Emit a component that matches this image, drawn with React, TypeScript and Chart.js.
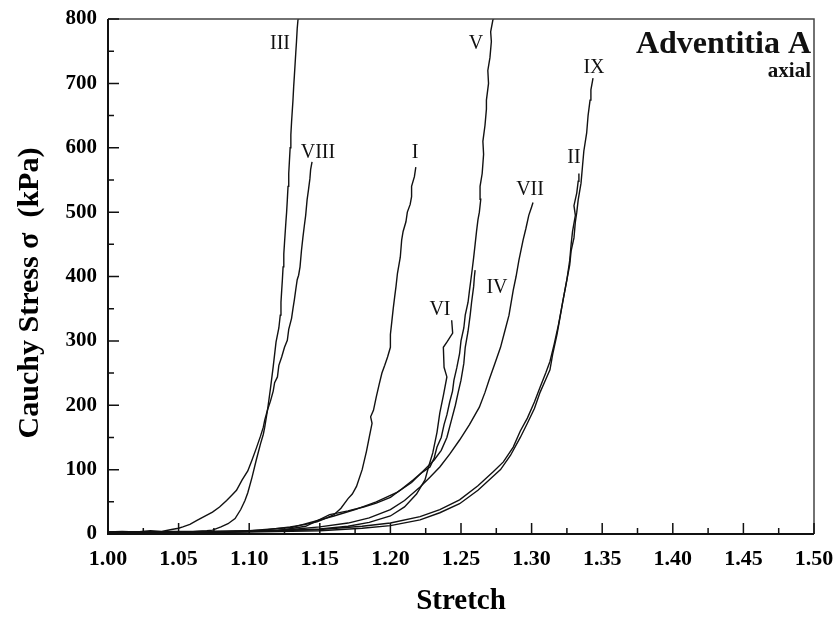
import React, { useEffect, useRef } from "react";
import { Chart, registerables } from "chart.js";

Chart.register(...registerables);

type P = [number, number];

const curveI: P[] = [[1.000,2],[1.030,3],[1.060,2],[1.090,4],[1.110,6],[1.129,11],[1.140,15],[1.148,19],[1.155,25],[1.160,30],[1.165,40],[1.170,55],[1.173,62],[1.176,74],[1.180,100],[1.183,128],[1.185,150],[1.187,172],[1.186,182],[1.188,192],[1.190,213],[1.192,232],[1.194,250],[1.196,262],[1.198,275],[1.200,290],[1.200,310],[1.201,330],[1.202,350],[1.203,368],[1.204,385],[1.205,405],[1.207,430],[1.208,457],[1.209,470],[1.211,485],[1.212,500],[1.214,512],[1.215,524],[1.215,540],[1.217,555],[1.218,570]];
const curveII: P[] = [[1.000,3],[1.050,3],[1.100,4],[1.150,7],[1.180,12],[1.200,17],[1.221,27],[1.235,38],[1.249,53],[1.262,75],[1.273,97],[1.280,112],[1.287,135],[1.292,160],[1.297,180],[1.302,205],[1.306,228],[1.310,250],[1.313,268],[1.316,295],[1.319,325],[1.321,348],[1.323,372],[1.325,395],[1.327,425],[1.328,450],[1.329,470],[1.331,495],[1.330,510],[1.332,530],[1.333,548],[1.3335,560]];
const curveIII: P[] = [[1.000,2],[1.015,3],[1.030,2],[1.045,4],[1.060,4],[1.070,5],[1.074,6],[1.080,11],[1.085,16],[1.090,24],[1.094,38],[1.097,52],[1.099,64],[1.102,88],[1.105,115],[1.108,140],[1.110,155],[1.111,166],[1.113,193],[1.115,225],[1.117,260],[1.119,298],[1.121,320],[1.122,340],[1.1225,360],[1.123,378],[1.1235,395],[1.124,415],[1.1245,435],[1.125,452],[1.126,485],[1.1265,500],[1.127,519],[1.1275,540],[1.128,560],[1.129,600],[1.1295,620],[1.130,640],[1.131,674],[1.1315,695],[1.132,712],[1.133,748],[1.1335,765],[1.134,785],[1.1346,800],[1.135,812]];
const curveIV: P[] = [[1.000,3],[1.050,3],[1.100,5],[1.130,10],[1.160,28],[1.175,38],[1.190,50],[1.205,65],[1.215,80],[1.222,95],[1.231,115],[1.236,130],[1.240,150],[1.243,175],[1.246,200],[1.248,220],[1.250,239],[1.252,265],[1.253,290],[1.255,315],[1.2565,340],[1.2575,360],[1.259,385],[1.2595,400],[1.260,410]];
const curveV: P[] = [[1.000,2],[1.040,3],[1.080,4],[1.120,5],[1.140,12],[1.157,30],[1.170,36],[1.181,42],[1.190,48],[1.200,57],[1.208,70],[1.216,84],[1.222,95],[1.228,104],[1.231,118],[1.233,135],[1.236,150],[1.238,170],[1.240,185],[1.242,205],[1.244,222],[1.245,239],[1.247,258],[1.249,280],[1.250,300],[1.252,320],[1.253,340],[1.255,360],[1.256,378],[1.257,395],[1.258,412],[1.259,430],[1.260,450],[1.261,470],[1.262,488],[1.263,500],[1.264,520],[1.2635,540],[1.265,560],[1.266,590],[1.2655,610],[1.267,635],[1.268,660],[1.268,674],[1.2695,700],[1.269,720],[1.2705,740],[1.2715,765],[1.271,780],[1.2727,800],[1.273,815]];
const curveVI: P[] = [[1.000,2],[1.040,3],[1.080,3],[1.120,5],[1.150,8],[1.170,12],[1.185,18],[1.200,28],[1.210,42],[1.2185,62],[1.2245,84],[1.227,104],[1.230,126],[1.233,158],[1.235,188],[1.2375,215],[1.240,244],[1.238,259],[1.2375,290],[1.240,298],[1.2441,312],[1.2434,332]];
const curveVII: P[] = [[1.000,2],[1.050,3],[1.100,4],[1.130,7],[1.150,11],[1.170,17],[1.185,25],[1.200,38],[1.210,52],[1.221,73],[1.228,88],[1.235,104],[1.242,124],[1.249,146],[1.256,170],[1.263,197],[1.267,220],[1.270,240],[1.274,265],[1.278,290],[1.281,315],[1.284,340],[1.287,379],[1.289,400],[1.291,425],[1.294,457],[1.296,475],[1.298,495],[1.300,508],[1.301,515]];
const curveVIII: P[] = [[1.000,3],[1.010,4],[1.020,3],[1.030,5],[1.038,4],[1.045,7],[1.050,9],[1.053,11],[1.058,15],[1.063,21],[1.068,27],[1.074,34],[1.079,42],[1.084,52],[1.088,61],[1.091,68],[1.095,84],[1.099,98],[1.102,115],[1.105,133],[1.108,152],[1.110,166],[1.111,177],[1.113,193],[1.115,206],[1.117,222],[1.118,235],[1.120,244],[1.121,262],[1.123,275],[1.125,290],[1.127,301],[1.128,318],[1.130,335],[1.131,350],[1.132,364],[1.133,380],[1.134,395],[1.135,402],[1.136,415],[1.137,440],[1.138,460],[1.139,478],[1.140,495],[1.141,519],[1.142,535],[1.143,552],[1.1435,566],[1.1445,578]];
const curveIX: P[] = [[1.000,2],[1.050,2],[1.100,3],[1.150,5],[1.180,9],[1.200,13],[1.221,22],[1.235,33],[1.249,47],[1.262,68],[1.273,90],[1.278,100],[1.285,122],[1.292,150],[1.297,172],[1.302,195],[1.306,220],[1.310,240],[1.313,255],[1.315,280],[1.318,310],[1.320,335],[1.322,360],[1.325,395],[1.327,418],[1.328,440],[1.330,460],[1.331,485],[1.332,500],[1.333,519],[1.335,545],[1.336,570],[1.337,595],[1.339,623],[1.340,650],[1.3414,674],[1.342,690],[1.3435,708]];

const curveNames = ["I", "II", "III", "IV", "V", "VI", "VII", "VIII", "IX"];
const curves: P[][] = [curveI, curveII, curveIII, curveIV, curveV, curveVI, curveVII, curveVIII, curveIX];

// label anchors in data coordinates (stretch, stress)
const labelStretch = [1.2174, 1.330, 1.1218, 1.2755, 1.2606, 1.2351, 1.2989, 1.1487, 1.3442];
const labelStress = [593, 585, 762, 382, 762, 348, 534, 593, 724];

const X_MIN = 1.0, X_MAX = 1.5, X_STEP = 0.05;
const Y_MIN = 0, Y_MAX = 800, Y_STEP = 100;

const SERIF = '"Liberation Serif", "Times New Roman", "DejaVu Serif", serif';

const decorPlugin = {
  id: "decor",
  afterDraw(chart: any) {
    const { ctx, chartArea: a, scales } = chart;
    const xs = scales.x, ys = scales.y;
    ctx.save();
    // frame
    ctx.strokeStyle = "#444";
    ctx.lineWidth = 1.5;
    ctx.beginPath();
    ctx.moveTo(a.left, a.top);
    ctx.lineTo(a.right, a.top);
    ctx.lineTo(a.right, a.bottom);
    ctx.stroke();
    ctx.strokeStyle = "#111";
    ctx.lineWidth = 2;
    ctx.beginPath();
    ctx.moveTo(a.left, a.top);
    ctx.lineTo(a.left, a.bottom);
    ctx.lineTo(a.right, a.bottom);
    ctx.stroke();
    // inward ticks
    ctx.lineWidth = 1.5;
    ctx.beginPath();
    for (let v = Y_MIN; v <= Y_MAX + 1e-6; v += Y_STEP / 2) {
      const py = ys.getPixelForValue(v);
      const major = Math.abs(v / Y_STEP - Math.round(v / Y_STEP)) < 1e-6;
      ctx.moveTo(a.left, py);
      ctx.lineTo(a.left + (major ? 11 : 6), py);
    }
    for (let i = 0; i <= Math.round((X_MAX - X_MIN) / (X_STEP / 2)); i++) {
      const v = X_MIN + i * X_STEP / 2;
      const px = xs.getPixelForValue(v);
      const major = i % 2 === 0;
      ctx.moveTo(px, a.bottom);
      ctx.lineTo(px, a.bottom - (major ? 11 : 6));
    }
    ctx.stroke();
    // curve labels
    ctx.fillStyle = "#111";
    ctx.font = `20px ${SERIF}`;
    ctx.textAlign = "center";
    ctx.textBaseline = "middle";
    curveNames.forEach((n, i) => {
      ctx.fillText(n, xs.getPixelForValue(labelStretch[i]), ys.getPixelForValue(labelStress[i]));
    });
    // panel title
    ctx.textAlign = "right";
    ctx.textBaseline = "alphabetic";
    ctx.font = `bold 32px ${SERIF}`;
    ctx.fillText("Adventitia A", a.right - 3, a.top + 34);
    ctx.font = `bold 21px ${SERIF}`;
    ctx.fillText("axial", a.right - 3, a.top + 58);
    // axis titles
    ctx.fillStyle = "#000";
    ctx.textAlign = "center";
    ctx.textBaseline = "middle";
    ctx.font = `bold 29px ${SERIF}`;
    ctx.fillText("Stretch", (a.left + a.right) / 2, 602);
    ctx.save();
    ctx.translate(30, 293);
    ctx.rotate(-Math.PI / 2);
    ctx.font = `bold 30px ${SERIF}`;
    ctx.fillText("Cauchy Stress \u03c3  (kPa)", 0, 0);
    ctx.restore();
    ctx.restore();
  },
};

export default function App() {
  const ref = useRef<HTMLCanvasElement | null>(null);
  useEffect(() => {
    if (!ref.current) return;
    const chart = new Chart(ref.current, {
      type: "line",
      data: {
        datasets: curves.map((c, i) => ({
          label: curveNames[i],
          data: c.map(([x, y]) => ({ x, y })),
          borderColor: "#111",
          borderWidth: 1.4,
          pointRadius: 0,
          tension: 0,
          fill: false,
        })),
      },
      options: {
        animation: false,
        responsive: true,
        maintainAspectRatio: false,
        layout: { padding: { left: 0, right: 23, top: 19, bottom: 0 } },
        plugins: { legend: { display: false }, tooltip: { enabled: false }, title: { display: false } },
        scales: {
          x: {
            type: "linear",
            min: X_MIN,
            max: X_MAX,
            grid: { display: false, drawTicks: false },
            border: { display: false },
            ticks: {
              stepSize: X_STEP,
              padding: 12,
              color: "#000",
              font: { family: SERIF, size: 22, weight: "bold" },
              callback: (v: any) => Number(v).toFixed(2),
              maxRotation: 0,
              autoSkip: false,
            },
            afterFit: (s: any) => { s.height = 85; s.paddingLeft = 0; s.paddingRight = 0; },
          },
          y: {
            min: Y_MIN,
            max: Y_MAX,
            grid: { display: false, drawTicks: false },
            border: { display: false },
            ticks: {
              stepSize: Y_STEP,
              padding: 11,
              color: "#000",
              font: { family: SERIF, size: 21, weight: "bold" },
            },
            afterFit: (s: any) => { s.width = 108; s.paddingTop = 0; s.paddingBottom = 0; },
          },
        },
      },
      plugins: [decorPlugin],
    });
    return () => chart.destroy();
  }, []);
  return (
    <div style={{ position: "fixed", left: 0, top: 0, width: 837, height: 619, background: "#fff" }}>
      <canvas ref={ref} />
    </div>
  );
}
